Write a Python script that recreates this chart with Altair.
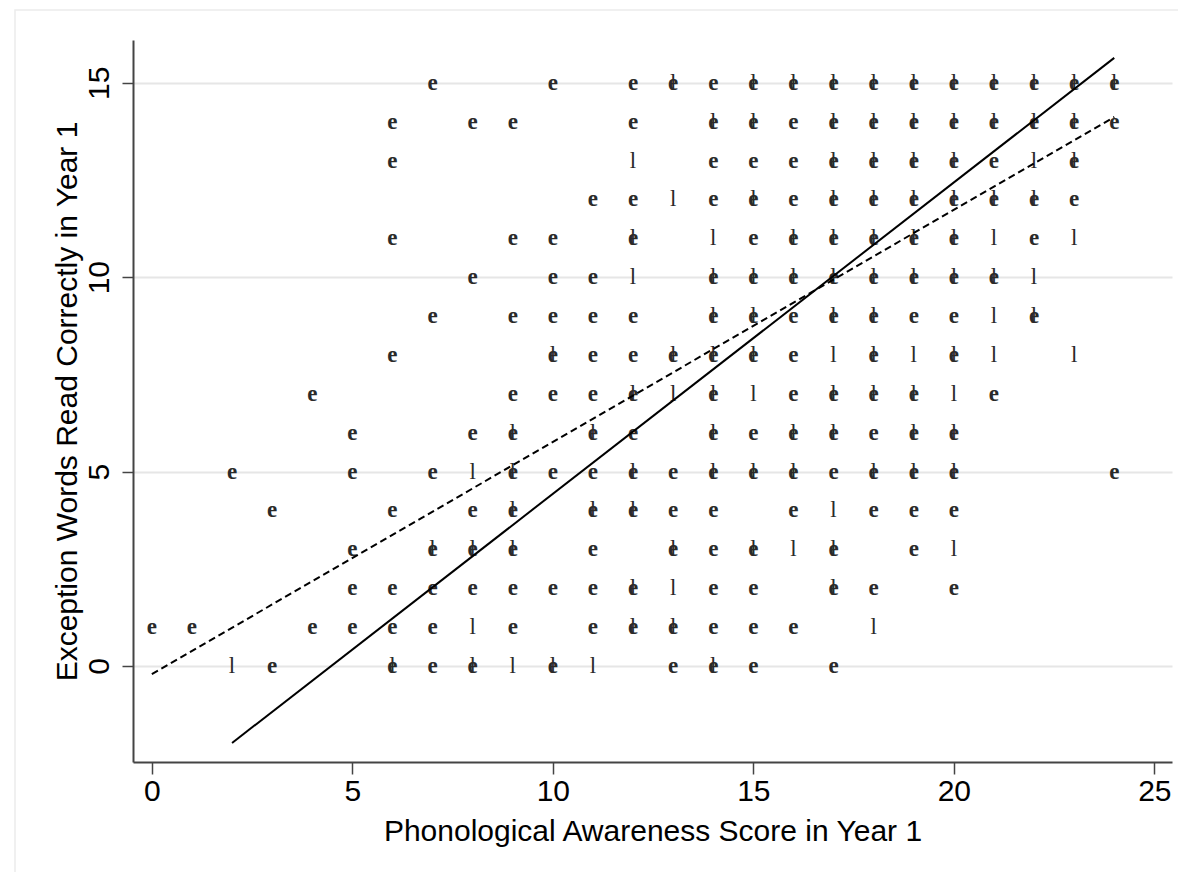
import altair as alt
import pandas as pd

# ---------------- data ----------------
x_ticks = [0, 5, 10, 15, 20, 25]
y_ticks = [0, 5, 10, 15]

# cells (x positions) where an "e" marker label appears, by y value
e_cells = {
    15: [7, 10, 12, 13, 14, 15, 16, 17, 18, 19, 20, 21, 22, 23, 24],
    14: [6, 8, 9, 12, 14, 15, 16, 17, 18, 19, 20, 21, 22, 23, 24],
    13: [6, 14, 15, 16, 17, 18, 19, 20, 21, 23],
    12: [11, 12, 14, 15, 16, 17, 18, 19, 20, 21, 22, 23],
    11: [6, 9, 10, 12, 15, 16, 17, 18, 19, 20, 22],
    10: [8, 10, 11, 14, 15, 16, 17, 18, 19, 20, 21],
    9: [7, 9, 10, 11, 12, 14, 15, 16, 17, 18, 19, 20, 22],
    8: [6, 10, 11, 12, 13, 14, 15, 16, 18, 20],
    7: [4, 9, 10, 11, 12, 14, 16, 17, 18, 19, 21],
    6: [5, 8, 9, 11, 12, 14, 15, 16, 17, 18, 19, 20],
    5: [2, 5, 7, 9, 10, 11, 12, 13, 14, 15, 16, 17, 18, 19, 20, 24],
    4: [3, 6, 8, 9, 11, 12, 13, 14, 16, 18, 19, 20],
    3: [5, 7, 8, 9, 11, 13, 14, 15, 17, 19],
    2: [5, 6, 7, 8, 9, 10, 11, 12, 14, 15, 17, 18, 20],
    1: [0, 1, 4, 5, 6, 7, 9, 11, 12, 13, 14, 15, 16],
    0: [3, 6, 7, 8, 10, 13, 14, 15, 17],
}

# cells where an "l" marker label appears, by y value
l_cells = {
    15: [13, 15, 16, 17, 18, 19, 20, 21, 22, 23, 24],
    14: [14, 15, 17, 18, 19, 20, 21, 22, 23],
    13: [12, 17, 18, 19, 20, 22, 23],
    12: [13, 15, 17, 18, 19, 20, 21, 22],
    11: [12, 14, 16, 17, 18, 19, 20, 21, 23],
    10: [12, 14, 15, 16, 17, 18, 19, 20, 21, 22],
    9: [14, 15, 17, 18, 21, 22],
    8: [10, 13, 14, 15, 17, 18, 19, 20, 21, 23],
    7: [12, 13, 14, 15, 17, 18, 19, 20],
    6: [9, 11, 14, 16, 17, 19, 20],
    5: [8, 9, 12, 14, 15, 16, 18, 19, 20],
    4: [9, 11, 12, 17],
    3: [7, 8, 9, 13, 15, 16, 17, 20],
    2: [12, 13, 17],
    1: [8, 12, 13, 18],
    0: [2, 6, 8, 9, 10, 11, 14],
}

# fitted lines (end points)
fit_group = ["l", "l", "e", "e"]
fit_x = [2, 24, 0, 24]
fit_y = [-1.98, 15.64, -0.21, 14.12]

# ---------------- build tables ----------------
rows = []
for yv, xs in e_cells.items():
    for xv in xs:
        rows.append({"score": xv, "words": yv, "group": "e"})
for yv, xs in l_cells.items():
    for xv in xs:
        rows.append({"score": xv, "words": yv, "group": "l"})
pts = pd.DataFrame(rows)
fits = pd.DataFrame({"group": fit_group, "score": fit_x, "words": fit_y})

SANS = "Liberation Sans"
xscale = alt.Scale(domain=[-0.47, 25.44], nice=False, zero=False)
yscale = alt.Scale(domain=[-2.47, 16.1], nice=False, zero=False)

x_axis = alt.Axis(
    values=x_ticks, grid=False,
    title="Phonological Awareness Score in Year 1",
    labelFont=SANS, labelFontSize=30, labelColor="#000", labelPadding=2,
    titleFont=SANS, titleFontSize=30, titleColor="#000", titleFontWeight="normal",
    titleY=54, titleBaseline="top",
    domainColor="#444", domainWidth=2, tickColor="#444", tickWidth=1.5, tickSize=12,
)
y_axis = alt.Axis(
    values=y_ticks, grid=True, gridColor="#e6e6e6", gridWidth=2,
    title="Exception Words Read Correctly in Year 1",
    labelFont=SANS, labelFontSize=30, labelColor="#000", labelPadding=8,
    labelAngle=-90, labelAlign="center", labelBaseline="bottom",
    titleFont=SANS, titleFontSize=30, titleColor="#000", titleFontWeight="normal",
    titleX=-51,
    domainColor="#444", domainWidth=2, tickColor="#444", tickWidth=1.5, tickSize=11,
)

frame = alt.Chart(pd.DataFrame({"a": [0]})).mark_rect(
    fill="transparent", stroke="#ececec", strokeWidth=1.5
).encode(
    x=alt.value(-118), x2=alt.value(1047), y=alt.value(-30), y2=alt.value(833)
)

text_e = alt.Chart(pts).transform_filter(alt.datum.group == "e").mark_text(
    font="Liberation Serif", fontSize=23, fontWeight="bold", align="center",
    baseline="middle", color="#2a2a2a"
).encode(
    x=alt.X("score:Q", scale=xscale, axis=x_axis),
    y=alt.Y("words:Q", scale=yscale, axis=y_axis),
    text="group:N",
)

text_l = alt.Chart(pts).transform_filter(alt.datum.group == "l").mark_text(
    font="Liberation Serif", fontSize=23, align="center",
    baseline="middle", color="#2a2a2a"
).encode(
    x=alt.X("score:Q", scale=xscale),
    y=alt.Y("words:Q", scale=yscale),
    text="group:N",
)

solid = alt.Chart(fits).transform_filter(alt.datum.group == "l").mark_line(
    color="black", strokeWidth=2
).encode(x=alt.X("score:Q", scale=xscale), y=alt.Y("words:Q", scale=yscale))

dashed = alt.Chart(fits).transform_filter(alt.datum.group == "e").mark_line(
    color="black", strokeWidth=2, strokeDash=[7, 4]
).encode(x=alt.X("score:Q", scale=xscale), y=alt.Y("words:Q", scale=yscale))

chart = alt.layer(frame, text_e, text_l, solid, dashed).properties(
    width=1039, height=722,
    padding={"left": 125, "top": 32, "right": 6, "bottom": 110},
    autosize=alt.AutoSizeParams(type="none"),
    background="white",
).configure_view(strokeWidth=0)

chart.save("out.html", embed_options={"renderer": "svg", "actions": False})
